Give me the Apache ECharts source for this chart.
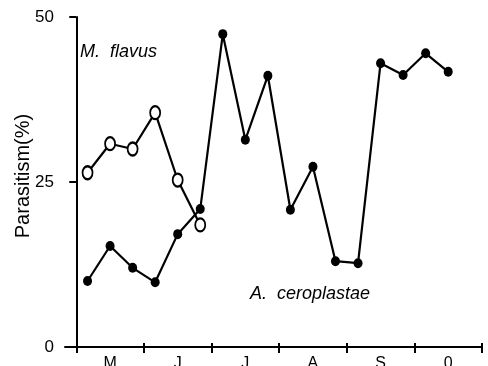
<!DOCTYPE html>
<html><head><meta charset="utf-8">
<script src="https://cdn.jsdelivr.net/npm/echarts@6/dist/echarts.min.js"></script>
<style>html,body{margin:0;padding:0;background:#fff}#c{width:488px;height:366px}</style>
</head><body><div id="c"></div>
<script>
// x positions: 10-day periods, month boundaries at multiples of 3
var periods = [0.5,1.5,2.5,3.5,4.5,5.5,6.5,7.5,8.5,9.5,10.5,11.5,12.5,13.5,14.5,15.5,16.5];
var ceroplastae = [10.0,15.3,12.0,9.8,17.1,20.9,47.4,31.4,41.1,20.8,27.3,13.0,12.7,43.0,41.2,44.5,41.7];
var flavus = [26.4,30.8,30.0,35.5,25.3,18.5];
var monthTicks = [0,3,6,9,12,15,18];
var monthCenters = [1.5,4.5,7.5,10.5,13.5,16.5];
var monthLabels = ['M','J','J','A','S','0'];

var chart = echarts.init(document.getElementById('c'));
var labelMap = {};
monthCenters.forEach(function(v,i){labelMap[v]=monthLabels[i];});
var F = 'Liberation Sans, Arial, sans-serif';
chart.setOption({
  animation:false,
  grid:{left:65,right:6,top:17,bottom:19,containLabel:false,outerBoundsMode:'none'},
  xAxis:[{
    type:'value',min:-0.5,max:18,
    axisLine:{lineStyle:{color:'#000',width:2}},
    axisTick:{show:true,customValues:monthTicks,length:6,lineStyle:{color:'#000',width:2}},
    axisLabel:{customValues:monthCenters,formatter:function(v){return labelMap[v]||'';},
      color:'#000',fontSize:16,fontFamily:F,margin:9},
    splitLine:{show:false}
  },{
    type:'value',min:-0.5,max:18,position:'bottom',
    axisLine:{show:false},
    axisTick:{show:true,inside:true,customValues:monthTicks,length:4,lineStyle:{color:'#000',width:2}},
    axisLabel:{show:false},splitLine:{show:false}
  }],
  yAxis:{
    type:'value',min:0,max:50,interval:25,
    name:'Parasitism(%)',nameLocation:'middle',nameGap:32,nameMoveOverlap:false,
    nameTextStyle:{color:'#000',fontSize:20,fontFamily:F,padding:[0,0,0,12]},
    axisLine:{show:true,lineStyle:{color:'#000',width:2}},
    axisTick:{show:true,length:7,lineStyle:{color:'#000',width:2}},
    axisLabel:{color:'#000',fontSize:17,fontFamily:F,margin:11},
    splitLine:{show:false}
  },
  graphic:[
    {type:'text',left:80,top:43,style:{text:'M.  flavus',fill:'#000',font:'italic 18px Liberation Sans, Arial'}},
    {type:'text',left:250,top:285,style:{text:'A.  ceroplastae',fill:'#000',font:'italic 18px Liberation Sans, Arial'}}
  ],
  series:[{
    type:'line',name:'A. ceroplastae',
    data:periods.map(function(x,i){return [x,ceroplastae[i]];}),
    symbol:'circle',symbolSize:[9,10],
    lineStyle:{color:'#000',width:2.2},
    itemStyle:{color:'#000'}
  },{
    type:'line',name:'M. flavus',
    data:flavus.map(function(v,i){return [periods[i],v];}),
    symbol:'emptyCircle',symbolSize:[10,13],
    lineStyle:{color:'#000',width:2.2},
    itemStyle:{color:'#000',borderColor:'#000',borderWidth:2},
    z:3
  }]
});
</script></body></html>
